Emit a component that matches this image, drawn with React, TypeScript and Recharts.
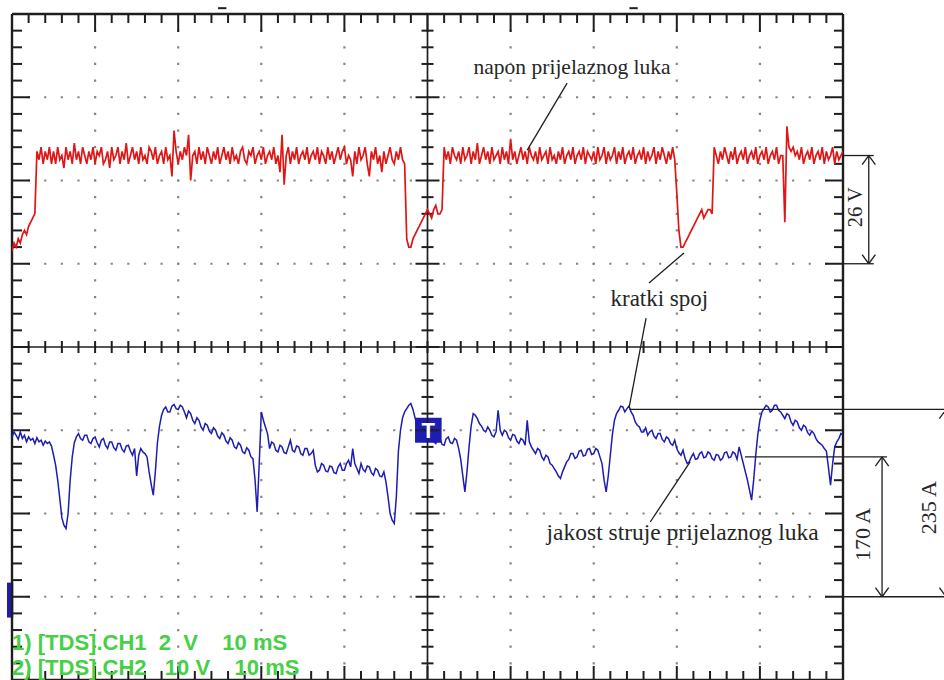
import React from 'react';
import {
  ComposedChart,
  Line,
  XAxis,
  YAxis,
  ReferenceLine,
  ReferenceDot,
  ReferenceArea,
} from 'recharts';

// ---- data (one sample every 0.25 ms; 20 samples = 5 ms per row) ----
const SAMPLE_STEP_MS = 0.25;

// CH2: arc voltage [V]
const arcVoltageV = [
  3, 5, 4, 6, 5, 7, 8, 7, 9, 10, 11, 12, 27, 25, 28, 24, 27, 25, 28, 24,
  27, 24, 28, 25, 26, 23, 28, 25, 27, 24, 29, 25, 27, 24, 28, 26, 24, 27, 25, 28,
  24, 27, 26, 28, 24, 25, 27, 23, 28, 25, 26, 28, 24, 27, 25, 29, 24, 26, 28, 25,
  27, 24, 28, 25, 26, 24, 28, 27, 25, 28, 24, 26, 27, 24, 28, 25, 26, 21, 32, 27,
  24, 27, 25, 28, 26, 31, 20, 26, 27, 24, 28, 25, 27, 24, 28, 26, 24, 27, 25, 28,
  24, 26, 28, 25, 27, 24, 28, 25, 26, 24, 27, 28, 25, 24, 27, 26, 28, 24, 26, 27,
  25, 28, 24, 26, 27, 25, 28, 24, 26, 22, 31, 19, 26, 28, 24, 27, 25, 28, 24, 26,
  27, 25, 28, 24, 26, 27, 25, 28, 24, 27, 26, 24, 28, 25, 27, 24, 26, 28, 25, 27,
  28, 24, 26, 25, 21, 27, 24, 28, 25, 26, 28, 24, 21, 27, 25, 28, 24, 26, 22, 27,
  24, 26, 28, 25, 24, 27, 25, 28, 25, 24, 6, 4, 4, 6, 7, 8, 9, 10, 11, 12,
  13, 12, 11, 13, 14, 12, 12, 13, 28, 25, 27, 24, 28, 26, 25, 27, 24, 28, 25, 26,
  28, 24, 27, 25, 29, 24, 26, 28, 25, 27, 24, 28, 25, 26, 27, 24, 28, 25, 27, 24,
  30, 25, 27, 24, 26, 28, 25, 27, 24, 28, 26, 25, 27, 24, 28, 25, 26, 27, 24, 28,
  25, 26, 24, 27, 25, 28, 24, 26, 27, 25, 28, 24, 26, 27, 25, 28, 24, 27, 26, 25,
  27, 24, 28, 25, 26, 28, 24, 27, 25, 26, 28, 24, 27, 25, 28, 24, 26, 27, 25, 28,
  24, 26, 27, 25, 28, 24, 27, 25, 26, 28, 24, 27, 25, 28, 26, 24, 27, 25, 28, 25,
  17, 8, 4, 4, 5, 6, 7, 8, 9, 10, 11, 12, 13, 11, 12, 13, 13, 12, 28, 26,
  24, 27, 25, 28, 26, 24, 27, 25, 28, 24, 26, 27, 25, 28, 24, 26, 27, 25, 28, 24,
  26, 27, 25, 28, 24, 26, 27, 25, 28, 24, 26, 26, 10, 33, 28, 27, 28, 26, 27, 25,
  28, 24, 26, 27, 25, 28, 24, 26, 27, 25, 28, 24, 27, 25, 26, 28, 24, 27, 25, 26,
  27,
];

// CH1: arc current [A]
const arcCurrentA = [
  192, 198, 194, 189, 198, 190, 194, 186, 192, 188, 190, 184, 191, 186, 188, 182, 187, 184, 186, 181,
  170, 158, 140, 118, 95, 86, 82, 100, 140, 168, 185, 192, 196, 190, 188, 194, 194, 186, 184, 190,
  192, 185, 180, 188, 190, 182, 178, 186, 186, 179, 176, 184, 184, 177, 174, 181, 182, 175, 170, 178,
  145, 170, 178, 174, 172, 168, 150, 135, 122, 150, 185, 205, 218, 225, 228, 222, 222, 229, 231, 226,
  225, 230, 228, 222, 215, 223, 220, 212, 208, 215, 212, 204, 200, 208, 206, 199, 196, 203, 200, 193,
  190, 197, 194, 187, 184, 191, 188, 180, 178, 185, 182, 174, 172, 179, 176, 168, 166, 140, 102, 160,
  222, 212, 204, 196, 178, 186, 184, 176, 174, 182, 180, 173, 172, 180, 188, 176, 174, 181, 180, 172,
  170, 178, 178, 170, 172, 176, 158, 150, 152, 160, 158, 151, 150, 157, 156, 149, 148, 156, 160, 152,
  152, 160, 164, 156, 178, 160, 154, 148, 160, 153, 150, 157, 156, 149, 146, 154, 152, 145, 144, 150,
  138, 120, 100, 92, 88, 120, 175, 200, 215, 222, 226, 230, 232, 225, 215, 206, 200, 196, 192, 188,
  188, 192, 194, 186, 184, 190, 190, 183, 182, 190, 192, 185, 184, 190, 188, 178, 165, 145, 126, 150,
  180, 205, 220, 218, 214, 208, 205, 200, 198, 204, 200, 194, 192, 198, 224, 200, 194, 200, 198, 191,
  188, 195, 194, 187, 184, 190, 188, 182, 212, 186, 180, 176, 172, 178, 176, 168, 164, 170, 168, 160,
  158, 154, 150, 145, 142, 150, 156, 162, 165, 172, 172, 166, 168, 175, 176, 169, 170, 177, 178, 171,
  172, 178, 176, 168, 160, 140, 126, 145, 170, 195, 212, 220, 224, 229, 228, 222, 226, 229, 222, 218,
  210, 206, 204, 198, 198, 203, 194, 198, 200, 193, 190, 196, 196, 189, 186, 192, 190, 184, 182, 188,
  178, 173, 170, 176, 166, 160, 162, 168, 172, 165, 166, 172, 174, 167, 168, 174, 172, 166, 164, 171,
  170, 164, 166, 173, 174, 167, 168, 174, 172, 165, 180, 170, 160, 150, 140, 128, 116, 140, 170, 195,
  212, 222, 226, 230, 228, 222, 224, 230, 230, 224, 222, 218, 214, 220, 218, 210, 206, 212, 210, 203,
  200, 206, 204, 197, 194, 199, 196, 190, 186, 184, 182, 178, 175, 155, 134, 160, 180, 186, 190, 196,
  194,
];

const timeDomainMs: [number, number] = [0, 100];
const voltageDomainV: [number, number] = [-100, 60];
const currentDomainA: [number, number] = [-100, 700];

const majorTimeMs = [0, 10, 20, 30, 40, 50, 60, 70, 80, 90, 100];
const majorCurrentA = [-100, 0, 100, 200, 300, 400, 500, 600, 700];
const minorTimeMs = Array.from({ length: 51 }, (_, k) => k * 2);
const minorCurrentA = Array.from({ length: 41 }, (_, k) => -100 + k * 20);

const channelLabels = [
  '1) [TDS].CH1\u00A0\u00A02\u00A0\u00A0V\u00A0\u00A0\u00A0\u00A010 mS',
  '2) [TDS].CH2\u00A0\u00A0\u00A010\u00A0V\u00A0\u00A0\u00A0\u00A010 mS',
];

const data = arcVoltageV.map((v, k) => ({
  t: k * SAMPLE_STEP_MS,
  v,
  i: arcCurrentA[k],
}));

// ---- layout ----
const W = 944;
const H = 680;
const MARGIN = { top: 14, right: 101, bottom: 0, left: 12 };
const PX_PER_MS = (W - MARGIN.left - MARGIN.right) / 100;
const PX_PER_A = (H - MARGIN.top - MARGIN.bottom) / 800;

const INK = '#1e1e1e';
const GRID_DOT = '#858585';
const RED = '#e01616';
const BLUE = '#1d1db2';
const GREEN = '#46d046';
const SERIF = "'Liberation Serif', 'Times New Roman', serif";
const SANS = "'Liberation Sans', Arial, sans-serif";

const seg = (
  key: string,
  x1: number,
  y1: number,
  x2: number,
  y2: number,
  axis: string,
  stroke = INK,
  width = 1.3,
) => (
  <ReferenceLine
    key={key}
    yAxisId={axis}
    segment={[
      { x: x1, y: y1 },
      { x: x2, y: y2 },
    ]}
    stroke={stroke}
    strokeWidth={width}
    ifOverflow="visible"
  />
);

const textAt = (
  key: string,
  x: number,
  y: number,
  axis: string,
  value: string,
  opts: Record<string, any>,
) => (
  <ReferenceDot
    key={key}
    x={x}
    y={y}
    yAxisId={axis}
    r={0.5}
    fill="none"
    stroke="none"
    ifOverflow="visible"
    label={{ value, position: 'center', ...opts }}
  />
);

const arrow = (key: string, x: number, y: number, axis: string, dy: number, dx = 0.8) => [
  seg(key + 'a', x, y, x - dx, y + dy, axis),
  seg(key + 'b', x, y, x + dx, y + dy, axis),
];

export default function App() {
  const tickA = (px: number) => px / PX_PER_A;
  const tickMs = (px: number) => px / PX_PER_MS;

  const grid = [
    ...majorTimeMs
      .filter((t) => t > 0 && t < 100 && t !== 50)
      .map((t) => (
        <ReferenceLine
          key={'gx' + t}
          x={t}
          yAxisId="i"
          stroke={GRID_DOT}
          strokeWidth={2.2}
          strokeDasharray="2.2 14.45"
          strokeDashoffset={1.1}
        />
      )),
    ...majorCurrentA
      .filter((a) => a > -100 && a < 700 && a !== 300)
      .map((a) => (
        <ReferenceLine
          key={'gy' + a}
          y={a}
          yAxisId="i"
          stroke={GRID_DOT}
          strokeWidth={2.2}
          strokeDasharray="2.2 14.42"
          strokeDashoffset={1.1}
        />
      )),
  ];

  const frame = [
    <ReferenceLine key="bl" x={0} yAxisId="i" stroke={INK} strokeWidth={2.4} />,
    <ReferenceLine key="br" x={100} yAxisId="i" stroke={INK} strokeWidth={2.4} />,
    <ReferenceLine key="bt" y={700} yAxisId="i" stroke={INK} strokeWidth={2.4} />,
    <ReferenceLine key="bb" y={-100} yAxisId="i" stroke={INK} strokeWidth={2.4} />,
    <ReferenceLine key="cx" x={50} yAxisId="i" stroke={INK} strokeWidth={1.7} />,
    <ReferenceLine key="cy" y={300} yAxisId="i" stroke={INK} strokeWidth={1.7} />,
  ];

  const ticks = [
    ...minorTimeMs.map((t) =>
      seg('tt' + t, t, 700, t, 700 - tickA(t % 10 === 0 ? 18 : 9), 'i', INK, 2),
    ),
    ...minorTimeMs.map((t) =>
      seg('tb' + t, t, -100, t, -100 + tickA(t % 10 === 0 ? 14 : 9), 'i', INK, 2),
    ),
    ...minorTimeMs.map((t) =>
      seg('tc' + t, t, 300 - tickA(6), t, 300 + tickA(6), 'i', INK, 2),
    ),
    ...minorCurrentA.map((a) =>
      seg('tl' + a, 0, a, tickMs(a % 100 === 0 ? 18 : 10), a, 'i', INK, 2),
    ),
    ...minorCurrentA.map((a) =>
      seg('tr' + a, 100, a, 100 - tickMs(a % 100 === 0 ? 18 : 9), a, 'i', INK, 2),
    ),
    ...minorCurrentA.map((a) => {
      const h = tickMs(a % 100 === 0 ? 12 : 6);
      return seg('tv' + a, 50 - h, a, 50 + h, a, 'i', INK, 2);
    }),
    seg('trg1', 24.8, 707, 25.8, 707, 'i', INK, 2),
    seg('trg2', 74.3, 707, 75.3, 707, 'i', INK, 2),
  ];

  const dims = [
    // 26 V
    seg('v26t', 100, 26, 103.7, 26, 'v'),
    seg('v26b', 100, 0, 103.7, 0, 'v'),
    seg('v26v', 103.1, 0, 103.1, 26, 'v'),
    ...arrow('v26at', 103.1, 26, 'v', -2.2),
    ...arrow('v26ab', 103.1, 0, 'v', 2.2),
    // 170 A
    seg('a170t', 88.2, 168, 105.3, 168, 'i'),
    seg('a170v', 104.7, 0, 104.7, 168, 'i'),
    ...arrow('a170at', 104.7, 168, 'i', -11),
    ...arrow('a170ab', 104.7, 0, 'i', 11),
    // 235 A
    seg('a235t', 74.3, 225, 113, 225, 'i'),
    seg('a0', 100, 0, 113, 0, 'i'),
    seg('a235v', 112.4, 0, 112.4, 225, 'i'),
    ...arrow('a235at', 112.4, 225, 'i', -11),
    ...arrow('a235ab', 112.4, 0, 'i', 11),
    // leader lines
    seg('ln1', 66.8, 43.4, 62.0, 27.3, 'v'),
    seg('ln2', 76.65, -4.6, 80.87, 2.6, 'v'),
    seg('ln3', 76.3, 334.7, 74.25, 226.6, 'i'),
    seg('ln4', 76.8, 89.8, 81.6, 161.9, 'i'),
  ];

  const serif = { fill: '#262626', fontFamily: SERIF };
  const labels = [
    textAt('l1', 67.4, 47.4, 'v', 'napon prijelaznog luka', { ...serif, fontSize: 21.5 }),
    textAt('l2', 77.9, -8.2, 'v', 'kratki spoj', { ...serif, fontSize: 23 }),
    textAt('l3', 80.7, 78, 'i', 'jakost struje prijelaznog luka', { ...serif, fontSize: 23.5 }),
    textAt('l4', 101.4, 13.6, 'v', '26 V', { ...serif, fontSize: 20.5, angle: -90 }),
    textAt('l5', 102.3, 74.8, 'i', '170 A', { ...serif, fontSize: 22, angle: -90 }),
    textAt('l6', 110.3, 107, 'i', '235 A', { ...serif, fontSize: 22, angle: -90 }),
    ...channelLabels.map((s, k) => (
      <ReferenceDot
        key={'ch' + k}
        x={-0.05}
        y={k === 0 ? -55 : -85}
        yAxisId="i"
        r={0.5}
        fill="none"
        stroke="none"
        ifOverflow="visible"
        label={{
          value: s,
          position: 'right',
          offset: 0,
          fill: GREEN,
          fontFamily: SANS,
          fontWeight: 'bold',
          fontSize: 22,
        }}
      />
    )),
  ];

  return (
    <div style={{ position: 'absolute', left: 0, top: 0, width: W, height: H, background: '#fff' }}>
      <ComposedChart width={W} height={H} data={data} margin={MARGIN}>
        <XAxis type="number" dataKey="t" domain={timeDomainMs} allowDataOverflow hide />
        <YAxis yAxisId="v" type="number" domain={voltageDomainV} allowDataOverflow hide />
        <YAxis yAxisId="i" type="number" domain={currentDomainA} allowDataOverflow hide />
        {grid}
        {frame}
        {ticks}
        <Line
          yAxisId="v"
          dataKey="v"
          type="linear"
          stroke={RED}
          strokeWidth={1.7}
          dot={false}
          activeDot={false}
          isAnimationActive={false}
        />
        <Line
          yAxisId="i"
          dataKey="i"
          type="linear"
          stroke={BLUE}
          strokeWidth={1.5}
          dot={false}
          activeDot={false}
          isAnimationActive={false}
        />
        <ReferenceArea
          yAxisId="i"
          x1={48.5}
          x2={51.7}
          y1={185}
          y2={215}
          fill={BLUE}
          fillOpacity={1}
          stroke="none"
          ifOverflow="visible"
          label={{ value: 'T', position: 'center', fill: '#fff', fontWeight: 'bold', fontSize: 22, fontFamily: SANS }}
        />
        <ReferenceArea
          yAxisId="i"
          x1={-0.6}
          x2={0.15}
          y1={-25}
          y2={17}
          fill={BLUE}
          fillOpacity={1}
          stroke="none"
          ifOverflow="visible"
        />
        {dims}
        {labels}
      </ComposedChart>
    </div>
  );
}
